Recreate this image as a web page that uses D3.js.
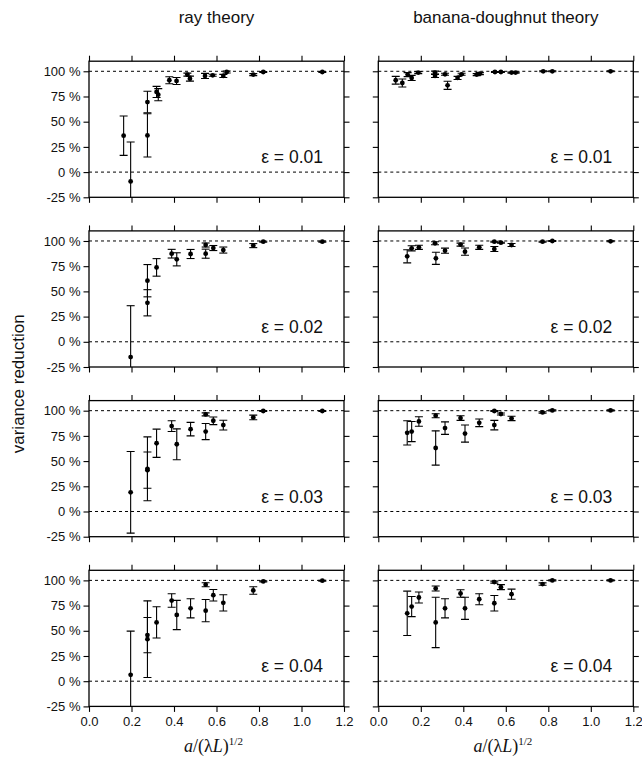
<!DOCTYPE html>
<html><head><meta charset="utf-8">
<script src="https://cdn.jsdelivr.net/npm/d3@7"></script>
<style>html,body{margin:0;padding:0;background:#fff;}svg{display:block;}</style>
</head><body>
<script>
// ---- data ----
const theories = ["ray theory", "banana-doughnut theory"];
const epsilons = ["0.01", "0.02", "0.03", "0.04"];
const xTicks = [0, 0.2, 0.4, 0.6, 0.8, 1.0, 1.2];
const yTicks = [-25, 0, 25, 50, 75, 100];
const yTickLabels = ["-25 %", "0 %", "25 %", "50 %", "75 %", "100 %"];

// ray theory
const rayX1 = [0.163, 0.196, 0.275, 0.275, 0.318, 0.326, 0.378, 0.412, 0.463, 0.475, 0.546, 0.582, 0.632, 0.648, 0.773, 0.820, 1.098];
const rayY1 = [36.1, -9.3, 69.5, 36.4, 79.5, 76.8, 91.1, 90.4, 96.7, 92.7, 95.4, 96.0, 95.4, 99.3, 96.7, 99.3, 99.3];
const rayE1 = [19.5, 39.1, 10.7, 21.5, 5.5, 6, 3.5, 3.5, 1.5, 2.5, 2.5, 1, 1.5, 1, 1, 0.5, 0.5];

const rayX2 = [0.196, 0.275, 0.275, 0.318, 0.389, 0.413, 0.478, 0.549, 0.549, 0.585, 0.632, 0.773, 0.820, 1.098];
const rayY2 = [-15.2, 60.6, 38.7, 73.8, 87.4, 81.8, 87.1, 87.4, 96.0, 93.0, 91.0, 95.4, 99.3, 99.3];
const rayE2 = [51, 16, 13, 8.7, 4.3, 6.5, 4.5, 4.5, 2, 2.5, 3, 2, 0.5, 0.5];

const rayX3 = [0.196, 0.275, 0.275, 0.318, 0.389, 0.413, 0.478, 0.549, 0.549, 0.585, 0.632, 0.773, 0.820, 1.098];
const rayY3 = [19, 42.3, 41, 67.7, 84.7, 66.7, 81.7, 79.3, 96.3, 90, 85.7, 93.3, 99.7, 99.7];
const rayE3 = [40.5, 31.7, 18, 14, 5.3, 15.3, 6.7, 8, 1.5, 3.8, 4.8, 2.3, 0.5, 0.5];

const rayX4 = [0.196, 0.275, 0.275, 0.318, 0.389, 0.413, 0.478, 0.549, 0.549, 0.585, 0.632, 0.773, 0.820, 1.098];
const rayY4 = [6.3, 45.7, 41.7, 58.3, 80, 65.7, 72.3, 70, 95.7, 85.3, 77.7, 90, 99, 99.7];
const rayE4 = [43.4, 17.5, 38, 15.5, 6.7, 14.5, 9.5, 11, 2, 5.7, 8, 3.7, 0.5, 0.5];

// banana-doughnut theory
const bdX1 = [0.082, 0.113, 0.138, 0.157, 0.188, 0.267, 0.267, 0.314, 0.326, 0.373, 0.392, 0.463, 0.478, 0.549, 0.577, 0.627, 0.646, 0.776, 0.819, 1.093];
const bdY1 = [91.1, 88.4, 96.7, 93.4, 98.7, 98.7, 95.4, 97.0, 86.1, 93.4, 97.0, 96.7, 97.7, 99.3, 99.3, 98.7, 98.7, 100, 100, 100];
const bdE1 = [3.8, 4, 2, 2.5, 1, 1.5, 1.5, 1, 4, 1.5, 1, 1, 1, 0.5, 0.5, 0.5, 0.5, 0.5, 0.5, 0.5];

const bdX2 = [0.136, 0.157, 0.191, 0.267, 0.271, 0.314, 0.387, 0.408, 0.475, 0.546, 0.546, 0.577, 0.627, 0.773, 0.819, 1.093];
const bdY2 = [84.8, 92.7, 93.7, 97.7, 82.8, 90.4, 96.4, 89.4, 93.7, 99.3, 92.0, 98.3, 96.0, 99.3, 100, 99.7];
const bdE2 = [6.5, 2.5, 2, 1.5, 6, 2.5, 1.5, 3.6, 2, 0.5, 2.5, 0.5, 1.5, 0.5, 0.5, 0.5];

const bdX3 = [0.136, 0.157, 0.191, 0.270, 0.270, 0.314, 0.387, 0.408, 0.475, 0.546, 0.546, 0.577, 0.627, 0.773, 0.819, 1.093];
const bdY3 = [78, 79.3, 89.3, 95, 63, 82.7, 92.7, 77.3, 88, 99.7, 85.7, 96.7, 92.3, 98.3, 100.3, 100.3];
const bdE3 = [12, 10, 4.7, 2, 17, 6.2, 2.3, 8.5, 3.8, 0.5, 4.7, 1, 2.2, 0.7, 0.5, 0.5];

const bdX4 = [0.136, 0.157, 0.191, 0.270, 0.270, 0.314, 0.387, 0.408, 0.475, 0.546, 0.546, 0.577, 0.627, 0.773, 0.819, 1.093];
const bdY4 = [67.3, 74, 83, 92, 58.3, 72.3, 87, 72.3, 81.3, 98.3, 77.3, 93.3, 86.3, 96.3, 100, 100];
const bdE4 = [22, 10, 5.5, 2.5, 25, 9.5, 3.7, 11, 5.5, 1, 7.7, 2.5, 5, 1.2, 0.5, 0.5];

const panels = [
  [[rayX1, rayY1, rayE1], [bdX1, bdY1, bdE1]],
  [[rayX2, rayY2, rayE2], [bdX2, bdY2, bdE2]],
  [[rayX3, rayY3, rayE3], [bdX3, bdY3, bdE3]],
  [[rayX4, rayY4, rayE4], [bdX4, bdY4, bdE4]]
];

// ---- layout ----
const W = 642, H = 761;
const colX0 = [89, 378.3];
const panelW = 255;
const rowBottom0 = 197.3, rowStep = 169.7;
const yDomain = [-25, 110];
const panelH = 136.1;
const tickLen = 5.5;
const sans = "'Liberation Sans', Arial, Helvetica, sans-serif";
const serif = "'Liberation Serif', 'Times New Roman', serif";

const svg = d3.select("body").append("svg").attr("width", W).attr("height", H)
  .style("background", "#fff");

// column titles
theories.forEach((t, c) => {
  svg.append("text").attr("x", colX0[c] + panelW / 2).attr("y", 23)
    .attr("text-anchor", "middle").attr("font-family", sans).attr("font-size", 17)
    .attr("fill", "#111").text(t);
});

// y label
svg.append("text").attr("transform", `translate(24,${(rowBottom0 - panelH + rowBottom0 + 3 * rowStep) / 2}) rotate(-90)`)
  .attr("text-anchor", "middle").attr("font-family", sans).attr("font-size", 17)
  .attr("fill", "#111").text("variance reduction");

panels.forEach((row, r) => {
  row.forEach(([xs, ys, es], c) => {
    const x0 = colX0[c];
    const yb = rowBottom0 + r * rowStep;
    const x = d3.scaleLinear().domain([0, 1.2]).range([x0, x0 + panelW]);
    const y = d3.scaleLinear().domain(yDomain).range([yb, yb - panelH]);
    const g = svg.append("g");
    const clipId = `clip-${r}-${c}`;
    svg.append("clipPath").attr("id", clipId).append("rect")
      .attr("x", x0).attr("y", yb - panelH).attr("width", panelW).attr("height", panelH);

    // axes (ticks outward on all sides)
    const axL = d3.axisLeft(y).tickValues(yTicks).tickSizeInner(tickLen).tickSizeOuter(0)
      .tickFormat((d, i) => c === 0 ? yTickLabels[i] : "");
    const axR = d3.axisRight(y).tickValues(yTicks).tickSizeInner(tickLen).tickSizeOuter(0).tickFormat("");
    const axT = d3.axisTop(x).tickValues(xTicks).tickSizeInner(tickLen).tickSizeOuter(0).tickFormat("");
    const axB = d3.axisBottom(x).tickValues(xTicks).tickSizeInner(tickLen).tickSizeOuter(0)
      .tickFormat(r === 3 ? d3.format(".1f") : "");
    const gl = g.append("g").attr("transform", `translate(${x0},0)`).call(axL);
    const gr = g.append("g").attr("transform", `translate(${x0 + panelW},0)`).call(axR);
    const gt = g.append("g").attr("transform", `translate(0,${yb - panelH})`).call(axT);
    const gb = g.append("g").attr("transform", `translate(0,${yb})`).call(axB);
    [gl, gr, gt, gb].forEach(a => {
      a.select(".domain").remove();
      a.selectAll("line").attr("stroke", "#000").attr("stroke-width", 1.1);
      a.selectAll("text").attr("font-family", sans).attr("font-size", 13).attr("fill", "#111");
    });
    gl.selectAll("text").attr("x", -tickLen - 3);
    gb.selectAll("text").attr("y", tickLen + 5);

    // dashed reference lines
    [100, 0].forEach(v => {
      g.append("line").attr("x1", x0).attr("x2", x0 + panelW).attr("y1", y(v)).attr("y2", y(v))
        .attr("stroke", "#000").attr("stroke-width", 1).attr("stroke-dasharray", "3,3");
    });

    // frame
    g.append("rect").attr("x", x0).attr("y", yb - panelH).attr("width", panelW).attr("height", panelH)
      .attr("fill", "none").attr("stroke", "#000").attr("stroke-width", 1.3);

    // error bars + points
    const data = xs.map((xv, i) => ({ x: xv, y: ys[i], e: es[i] }));
    const pg = g.append("g").attr("clip-path", `url(#${clipId})`);
    const cap = 4;
    data.forEach(d => {
      const cx = x(d.x), yt = y(d.y + d.e), ybt = y(d.y - d.e);
      pg.append("line").attr("x1", cx).attr("x2", cx).attr("y1", yt).attr("y2", ybt)
        .attr("stroke", "#000").attr("stroke-width", 1.1);
      [yt, ybt].forEach(yy => pg.append("line").attr("x1", cx - cap).attr("x2", cx + cap)
        .attr("y1", yy).attr("y2", yy).attr("stroke", "#000").attr("stroke-width", 1.1));
    });
    pg.selectAll("circle.pt").data(data).enter().append("circle").attr("class", "pt")
      .attr("cx", d => x(d.x)).attr("cy", d => y(d.y)).attr("r", 2.4).attr("fill", "#000");

    // epsilon label
    g.append("text").attr("x", x0 + panelW - 21).attr("y", yb - 34)
      .attr("text-anchor", "end").attr("font-family", sans).attr("font-size", 17.5)
      .attr("fill", "#111").text(`ε = ${epsilons[r]}`);
  });
});

// x-axis titles
colX0.forEach(x0 => {
  const t = svg.append("text").attr("x", x0 + panelW / 2 - 3).attr("y", 752)
    .attr("text-anchor", "middle").attr("font-family", serif).attr("font-size", 18).attr("fill", "#111");
  t.append("tspan").attr("font-style", "italic").text("a");
  t.append("tspan").text("/(λ");
  t.append("tspan").attr("font-style", "italic").text("L");
  t.append("tspan").text(")");
  t.append("tspan").attr("dy", -7).attr("font-size", 11).text("1/2");
});
</script>
</body></html>
